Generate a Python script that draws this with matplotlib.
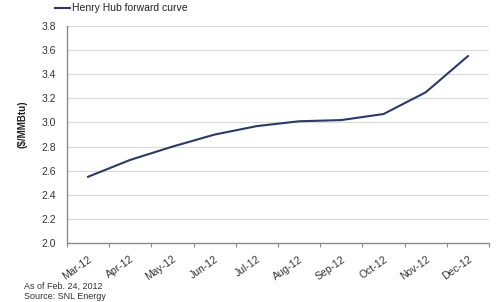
import matplotlib
matplotlib.use("Agg")
import matplotlib.pyplot as plt
from matplotlib.lines import Line2D

months = ["Mar-12", "Apr-12", "May-12", "Jun-12", "Jul-12", "Aug-12",
          "Sep-12", "Oct-12", "Nov-12", "Dec-12"]
prices = [2.55, 2.69, 2.80, 2.90, 2.97, 3.01, 3.02, 3.07, 3.25, 3.55]
yticks = [2.0, 2.2, 2.4, 2.6, 2.8, 3.0, 3.2, 3.4, 3.6, 3.8]

plt.rcParams['font.family'] = ['Liberation Sans', 'DejaVu Sans']

fig = plt.figure(figsize=(5, 3.02), dpi=100)
ax = fig.add_axes([0.134, 0.195, 0.844, 0.719])

x = list(range(len(months)))
line_color = "#2b3a63"
ax.plot(x, prices, color=line_color, lw=1.5, solid_joinstyle='round')

ax.set_xlim(-0.5, len(months) - 0.5)
ax.set_ylim(2.0, 3.8)
ax.set_yticks(yticks)
ax.set_yticklabels([f"{v:.1f}" for v in yticks], fontsize=7.5, color="#333333")
ax.yaxis.grid(True, color="#d9d9d9", lw=0.8)
ax.set_axisbelow(True)
ax.tick_params(axis='y', length=0, pad=8)

ax.set_xticks(x)
ax.set_xticklabels(months, rotation=35, ha='right', rotation_mode='anchor',
                   fontsize=7.5, color="#333333")
ax.tick_params(axis='x', length=0, pad=8)
# boundary tick marks
ax.set_xticks([i - 0.5 for i in range(len(months) + 1)], minor=True)
ax.tick_params(axis='x', which='minor', length=3, color="#888888", width=0.8)

for s in ["top", "right"]:
    ax.spines[s].set_visible(False)
for s in ["left", "bottom"]:
    ax.spines[s].set_color("#8c8c8c")
    ax.spines[s].set_linewidth(1.0)

fig.text(0.044, 0.59, "($/MMBtu)", rotation=90, fontsize=7, fontweight='bold',
         ha='center', va='center', color="#222222")

fig.add_artist(Line2D([0.110, 0.140], [0.972, 0.972], color=line_color, lw=1.5,
                      transform=fig.transFigure))
fig.text(0.145, 0.972, "Henry Hub forward curve", fontsize=7.5, va='center',
         color="#222222")

fig.text(0.048, 0.052, "As of Feb. 24, 2012", fontsize=6.5, va='center', color="#333333")
fig.text(0.048, 0.017, "Source: SNL Energy", fontsize=6.5, va='center', color="#333333")

fig.savefig("out.png", dpi=100)
